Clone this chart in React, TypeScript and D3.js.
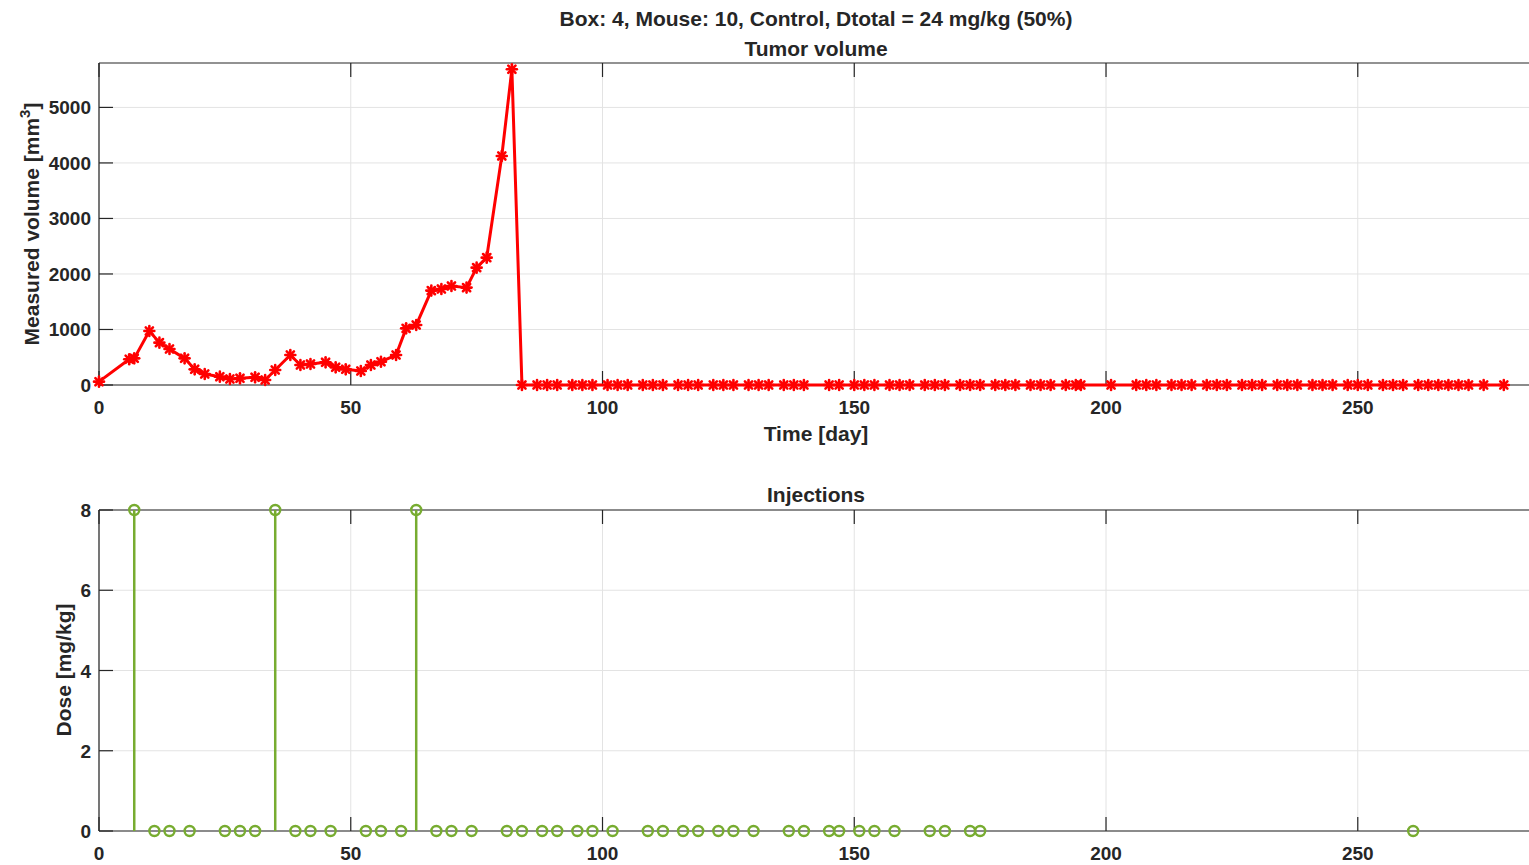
import React from "react";
import * as d3 from "d3";

const volumeDays = [0, 6, 7, 10, 12, 14, 17, 19, 21, 24, 26, 28, 31, 33, 35, 38, 40, 42, 45, 47, 49, 52, 54, 56, 59, 61, 63, 66, 68, 70, 73, 75, 77, 80, 82,
  84, 87, 89, 91, 94, 96, 98, 101, 103, 105, 108, 110, 112, 115, 117, 119, 122, 124, 126, 129, 131, 133, 136, 138, 140, 145, 147, 150, 152, 154, 157, 159, 161, 164, 166, 168, 171, 173, 175, 178, 180, 182,
  185, 187, 189, 192, 194, 195, 201, 206, 208, 210, 213, 215, 217, 220, 222, 224, 227, 229, 231, 234, 236, 238, 241, 243, 245, 248, 250, 252, 255, 257, 259, 262, 264, 266, 268, 270, 272, 275, 279];
const volumeEarly = [60, 463, 480, 973, 763, 649, 480, 282, 198, 150, 108, 120, 138, 90, 270, 540, 360, 378, 408, 318, 282, 252, 360, 420, 540, 1020, 1080, 1700, 1730, 1784, 1754, 2114, 2294, 4126, 5688];
const volumeValues = volumeDays.map((_, i) => (i < volumeEarly.length ? volumeEarly[i] : 0));

const doseDays = [7, 11, 14, 18, 25, 28, 31, 35, 39, 42, 46, 53, 56, 60, 63, 67, 70, 74, 81, 84, 88, 91, 95, 98, 102, 109, 112, 116, 119, 123, 126, 130, 137, 140, 145, 147, 151, 154, 158, 165, 168, 173, 175, 261];
const doseValues = doseDays.map((d) => (d === 7 || d === 35 || d === 63 ? 8 : 0));

const xTicks = [0, 50, 100, 150, 200, 250];
const volTicks = [0, 1000, 2000, 3000, 4000, 5000];
const doseTicks = [0, 2, 4, 6, 8];

const mainTitle = "Box: 4, Mouse: 10, Control, Dtotal = 24 mg/kg (50%)";
const topTitle = "Tumor volume";
const bottomTitle = "Injections";
const xLabel = "Time [day]";
const doseLabel = "Dose [mg/kg]";

const W = 1529;
const H = 865;
const FONT = "'Liberation Sans', Arial, Helvetica, sans-serif";
const TXT = "#262626";
const AX = "#262626";
const GRID = "#e3e3e3";
const RED = "#ff0000";
const GREEN = "#77ac30";
const TICKF = 19;
const LABF = 21;

export default function App() {
  const x = d3.scaleLinear().domain([0, 285]).range([99, 1534]);
  const yTop = d3.scaleLinear().domain([0, 5800]).range([385, 63]);
  const yBot = d3.scaleLinear().domain([0, 8]).range([831, 510]);
  const tickLen = 14;
  const line = d3.line<number>().x((_, i) => x(volumeDays[i])).y((v) => yTop(v));

  const axesFrame = (y: d3.ScaleLinear<number, number>, yt: number[], fmt: (v: number) => string) => {
    const [y0, y1] = y.range();
    const x0 = x.range()[0];
    const x1 = x.range()[1];
    return (
      <g>
        {xTicks.map((t) => (
          <line key={"gx" + t} x1={x(t)} x2={x(t)} y1={y0} y2={y1} stroke={GRID} strokeWidth={1} />
        ))}
        {yt.map((t) => (
          <line key={"gy" + t} x1={x0} x2={x1} y1={y(t)} y2={y(t)} stroke={GRID} strokeWidth={1} />
        ))}
        <line x1={x0} x2={x1} y1={y0} y2={y0} stroke={AX} strokeWidth={1.2} />
        <line x1={x0} x2={x1} y1={y1} y2={y1} stroke={AX} strokeWidth={1.2} />
        <line x1={x0} x2={x0} y1={y0} y2={y1} stroke={AX} strokeWidth={1.2} />
        {xTicks.map((t) => (
          <g key={"tx" + t}>
            <line x1={x(t)} x2={x(t)} y1={y0} y2={y0 - tickLen} stroke={AX} strokeWidth={1.2} />
            <line x1={x(t)} x2={x(t)} y1={y1} y2={y1 + tickLen} stroke={AX} strokeWidth={1.2} />
            <text x={x(t)} y={y0 + 29} textAnchor="middle" fontSize={TICKF} fontWeight="bold" fill={TXT} fontFamily={FONT}>
              {t}
            </text>
          </g>
        ))}
        {yt.map((t) => (
          <g key={"ty" + t}>
            <line x1={x0} x2={x0 + tickLen} y1={y(t)} y2={y(t)} stroke={AX} strokeWidth={1.2} />
            <text x={x0 - 8} y={y(t) + 7} textAnchor="end" fontSize={TICKF} fontWeight="bold" fill={TXT} fontFamily={FONT}>
              {fmt(t)}
            </text>
          </g>
        ))}
      </g>
    );
  };

  const star = (cx: number, cy: number, k: number) => {
    const r = 5;
    const d = r * 0.72;
    return (
      <g key={"m" + k} stroke={RED} strokeWidth={2.6} strokeLinecap="round">
        <line x1={cx - r} x2={cx + r} y1={cy} y2={cy} />
        <line x1={cx} x2={cx} y1={cy - r} y2={cy + r} />
        <line x1={cx - d} x2={cx + d} y1={cy - d} y2={cy + d} />
        <line x1={cx - d} x2={cx + d} y1={cy + d} y2={cy - d} />
      </g>
    );
  };

  return (
    <svg width={W} height={H} style={{ position: "absolute", left: 0, top: 0, background: "#fff" }}>
      <rect x={0} y={0} width={W} height={H} fill="#fff" />
      <text x={816} y={26} textAnchor="middle" fontSize={LABF} fontWeight="bold" fill={TXT} fontFamily={FONT}>
        {mainTitle}
      </text>
      <text x={816} y={56} textAnchor="middle" fontSize={LABF} fontWeight="bold" fill={TXT} fontFamily={FONT}>
        {topTitle}
      </text>
      {axesFrame(yTop, volTicks, (v) => String(v))}
      <path d={line(volumeValues) || ""} fill="none" stroke={RED} strokeWidth={3} strokeLinejoin="round" />
      {volumeValues.map((v, i) => star(x(volumeDays[i]), yTop(v), i))}
      <text x={816} y={441} textAnchor="middle" fontSize={LABF} fontWeight="bold" fill={TXT} fontFamily={FONT}>
        {xLabel}
      </text>
      <text transform={`translate(39,${224}) rotate(-90)`} textAnchor="middle" fontSize={LABF} fontWeight="bold" fill={TXT} fontFamily={FONT}>
        Measured volume [mm<tspan dy={-9} fontSize={15}>3</tspan><tspan dy={9}>]</tspan>
      </text>

      <text x={816} y={502} textAnchor="middle" fontSize={LABF} fontWeight="bold" fill={TXT} fontFamily={FONT}>
        {bottomTitle}
      </text>
      {axesFrame(yBot, doseTicks, (v) => String(v))}
      {doseValues.map((v, i) => (
        <line key={"s" + i} x1={x(doseDays[i])} x2={x(doseDays[i])} y1={yBot(0)} y2={yBot(v)} stroke={GREEN} strokeWidth={2.5} />
      ))}
      {doseValues.map((v, i) => (
        <circle key={"c" + i} cx={x(doseDays[i])} cy={yBot(v)} r={5} fill="none" stroke={GREEN} strokeWidth={2.4} />
      ))}
      <text transform={`translate(71,${670}) rotate(-90)`} textAnchor="middle" fontSize={LABF} fontWeight="bold" fill={TXT} fontFamily={FONT}>
        {doseLabel}
      </text>
    </svg>
  );
}
